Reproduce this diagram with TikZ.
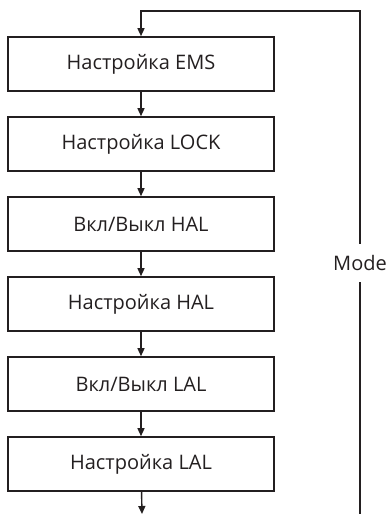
\documentclass[tikz,border=0pt]{standalone}
\usepackage{fontspec}
\setmainfont{Open Sans}
\usetikzlibrary{arrows.meta}
\definecolor{ink}{HTML}{231F20}
\begin{document}
\begin{tikzpicture}[x=1pt,y=-1pt,
  stepbox/.style={draw=ink,line width=1.6pt,minimum width=266pt,minimum height=54pt,inner sep=0pt,font=\fontsize{20}{24}\selectfont,text=ink},
  conn/.style={draw=ink,line width=1.4pt},
  arr/.style={conn,-{Triangle[length=8pt,width=7pt]}}]
\useasboundingbox (0,0) rectangle (388,514);
\node[stepbox] (e1) at (141,64) {Настройка EMS};
\node[stepbox] (e2) at (141,144) {Настройка LOCK};
\node[stepbox] (e3) at (141,224) {Вкл/Выкл HAL};
\node[stepbox] (e4) at (141,304) {Настройка HAL};
\node[stepbox] (e5) at (141,384) {Вкл/Выкл LAL};
\node[stepbox] (e6) at (141,464) {Настройка LAL};
\node[inner sep=0pt,minimum height=38pt,text=ink,font=\fontsize{20}{24}\selectfont] (mode) at (360,263) {Mode};
\coordinate (bl) at (142,514);
\coordinate (br) at (360,514);
\coordinate (tr) at (360,11);
\draw[arr] (e1) -- (e2);
\draw[arr] (e2) -- (e3);
\draw[arr] (e3) -- (e4);
\draw[arr] (e4) -- (e5);
\draw[arr] (e5) -- (e6);
\draw[arr] (e6) -- (bl);
\draw[conn] (br) -- (mode.south);
\draw[arr] (mode.north) -- (tr) -| (e1.north);
\end{tikzpicture}
\end{document}
